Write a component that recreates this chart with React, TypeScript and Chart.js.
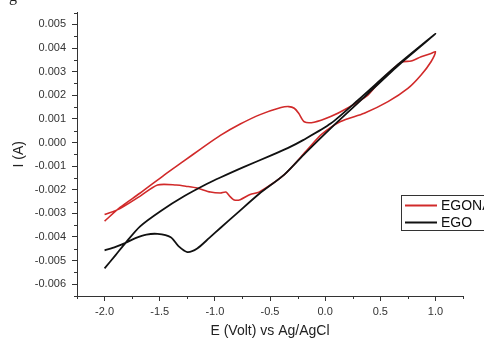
import React, { useEffect, useRef } from 'react';
import { Chart, registerables } from 'chart.js';

Chart.register(...registerables);

// ---- Data ----
const seriesLabels = ['EGONA', 'EGO'];
const seriesColors = ['#d12a2a', '#111111'];

// EGONA cyclic voltammogram (E in V, I in A), traced as a closed path
const egonaE = [-2.0, -1.86, -1.68, -1.46, -1.28, -1.13, -0.95, -0.77, -0.59, -0.4, -0.33, -0.28, -0.24, -0.19, -0.1, 0.05, 0.2, 0.385, 0.5, 0.69, 0.78, 0.87, 0.96, 1.0, 0.96, 0.87, 0.75, 0.57, 0.355, 0.14, -0.03, -0.16, -0.37, -0.6, -0.68, -0.77, -0.83, -0.87, -0.9, -0.95, -1.04, -1.16, -1.25, -1.35, -1.52, -1.68, -1.86, -2.0];
const egonaI = [-0.00333, -0.00275, -0.00215, -0.00138, -0.00078, -0.00028, 0.0003, 0.00078, 0.00118, 0.00148, 0.00152, 0.00145, 0.00124, 0.00088, 0.00086, 0.0011, 0.00145, 0.002, 0.0026, 0.0034, 0.00345, 0.00363, 0.00377, 0.00384, 0.00342, 0.00286, 0.00229, 0.00173, 0.00124, 0.00089, 0.00035, -0.0003, -0.00136, -0.0021, -0.0022, -0.00242, -0.00242, -0.00225, -0.0021, -0.00214, -0.0021, -0.00193, -0.00186, -0.0018, -0.0018, -0.00228, -0.0028, -0.00305];

// EGO cyclic voltammogram
const egoE = [-2.0, -1.9, -1.81, -1.68, -1.49, -1.28, -1.07, -0.95, -0.74, -0.5, -0.34, -0.2, 0.05, 0.3, 0.66, 1.0, 0.66, 0.35, 0.05, -0.18, -0.37, -0.6, -0.8, -0.95, -1.05, -1.16, -1.25, -1.33, -1.4, -1.52, -1.62, -1.72, -1.81, -1.9, -2.0];
const egoI = [-0.00533, -0.00477, -0.00425, -0.00356, -0.0029, -0.00228, -0.00175, -0.00148, -0.00104, -0.00057, -0.00024, 0.0001, 0.0008, 0.0018, 0.0033, 0.0046, 0.00325, 0.0019, 0.0006, -0.00045, -0.00136, -0.00218, -0.003, -0.00362, -0.00404, -0.00449, -0.00464, -0.00439, -0.00401, -0.00387, -0.0039, -0.00405, -0.00425, -0.00442, -0.00457];

// Axes
const xMin = -2.25;
const xMax = 1.25;
const yMin = -0.0065;
const yMax = 0.0055;
const xTickValues = [-2.0, -1.5, -1.0, -0.5, 0.0, 0.5, 1.0];
const yTickValues = [-0.006, -0.005, -0.004, -0.003, -0.002, -0.001, 0.0, 0.001, 0.002, 0.003, 0.004, 0.005];
const xMinorTicks = [-2.25, -1.75, -1.25, -0.75, -0.25, 0.25, 0.75, 1.25];
const yMinorTicks = [-0.0065, -0.0055, -0.0045, -0.0035, -0.0025, -0.0015, -0.0005, 0.0005, 0.0015, 0.0025, 0.0035, 0.0045, 0.0055];
const xTitle = 'E (Volt) vs Ag/AgCl';
const yTitle = 'I (A)';

const FONT = "'Liberation Sans', Arial, sans-serif";

const overlayPlugin = {
  id: 'overlay',
  afterDraw(chart: any) {
    const ctx = chart.ctx;
    const xs = chart.scales.x;
    const ys = chart.scales.y;
    const area = chart.chartArea;
    ctx.save();
    // minor ticks
    ctx.strokeStyle = '#333';
    ctx.lineWidth = 1;
    ctx.beginPath();
    xMinorTicks.forEach((v) => {
      const px = Math.round(xs.getPixelForValue(v)) + 0.5;
      ctx.moveTo(px, area.bottom);
      ctx.lineTo(px, area.bottom + 3);
    });
    yMinorTicks.forEach((v) => {
      const py = Math.round(ys.getPixelForValue(v)) + 0.5;
      ctx.moveTo(area.left, py);
      ctx.lineTo(area.left - 3, py);
    });
    ctx.stroke();

    // legend box (partly outside the canvas, as in the reference)
    const lx = 401.5;
    const ly = 195.5;
    ctx.strokeStyle = '#333';
    ctx.lineWidth = 1;
    ctx.strokeRect(lx, ly, 110, 35);
    ctx.font = `14px ${FONT}`;
    ctx.textBaseline = 'middle';
    ctx.textAlign = 'left';
    chart.data.datasets.forEach((ds: any, i: number) => {
      const cy = ly + 10 + i * 17;
      ctx.strokeStyle = ds.borderColor;
      ctx.lineWidth = 2;
      ctx.beginPath();
      ctx.moveTo(405, cy);
      ctx.lineTo(437, cy);
      ctx.stroke();
      ctx.fillStyle = '#111';
      ctx.fillText(ds.label, 441, cy + 1);
    });

    // clipped fragment of text above the figure
    ctx.fillStyle = '#222';
    ctx.font = `16px serif`;
    ctx.textBaseline = 'alphabetic';
    ctx.fillText('g', 9, 1);
    ctx.restore();
  },
};

export default function App() {
  const ref = useRef<HTMLCanvasElement | null>(null);

  useEffect(() => {
    if (!ref.current) return;
    const chart = new Chart(ref.current, {
      type: 'scatter',
      data: {
        datasets: [
          {
            label: seriesLabels[0],
            data: egonaE.map((e, i) => ({ x: e, y: egonaI[i] })),
            showLine: true,
            borderColor: seriesColors[0],
            backgroundColor: seriesColors[0],
            borderWidth: 1.6,
            pointRadius: 0,
            tension: 0.25,
            order: 1,
          },
          {
            label: seriesLabels[1],
            data: egoE.map((e, i) => ({ x: e, y: egoI[i] })),
            showLine: true,
            borderColor: seriesColors[1],
            backgroundColor: seriesColors[1],
            borderWidth: 1.8,
            pointRadius: 0,
            tension: 0.25,
            order: 0,
          },
        ],
      },
      options: {
        responsive: false,
        animation: false,
        layout: { padding: { left: 0, right: 21, top: 12, bottom: 0 } },
        plugins: { legend: { display: false }, tooltip: { enabled: false } },
        scales: {
          x: {
            type: 'linear',
            min: xMin,
            max: xMax,
            afterBuildTicks: (s: any) => {
              s.ticks = xTickValues.map((v) => ({ value: v }));
            },
            afterFit: (s: any) => {
              s.height = 44;
            },
            grid: { display: true, drawOnChartArea: false, drawTicks: true, tickLength: 5, color: '#333' },
            border: { display: true, color: '#333', width: 1 },
            ticks: {
              callback: (v: any) => Number(v).toFixed(1),
              color: '#333',
              font: { family: FONT, size: 11 },
              padding: 4,
              maxRotation: 0,
              autoSkip: false,
            },
            title: {
              display: true,
              text: xTitle,
              color: '#222',
              font: { family: FONT, size: 14 },
              padding: { top: 0, bottom: 0 },
            },
          },
          y: {
            type: 'linear',
            min: yMin,
            max: yMax,
            afterBuildTicks: (s: any) => {
              s.ticks = yTickValues.map((v) => ({ value: v }));
            },
            afterFit: (s: any) => {
              s.width = 77;
            },
            grid: { display: true, drawOnChartArea: false, drawTicks: true, tickLength: 5, color: '#333' },
            border: { display: true, color: '#333', width: 1 },
            ticks: {
              callback: (v: any) => Number(v).toFixed(3),
              color: '#333',
              font: { family: FONT, size: 11 },
              padding: 6,
              autoSkip: false,
            },
            title: {
              display: true,
              text: yTitle,
              color: '#222',
              font: { family: FONT, size: 14 },
              padding: { top: 11, bottom: 0 },
            },
          },
        },
      },
      plugins: [overlayPlugin],
    });
    return () => chart.destroy();
  }, []);

  return (
    <div style={{ position: 'fixed', left: 0, top: 0, width: 484, height: 340, background: '#fff' }}>
      <canvas ref={ref} width={484} height={340} style={{ display: 'block', width: 484, height: 340 }} />
    </div>
  );
}
